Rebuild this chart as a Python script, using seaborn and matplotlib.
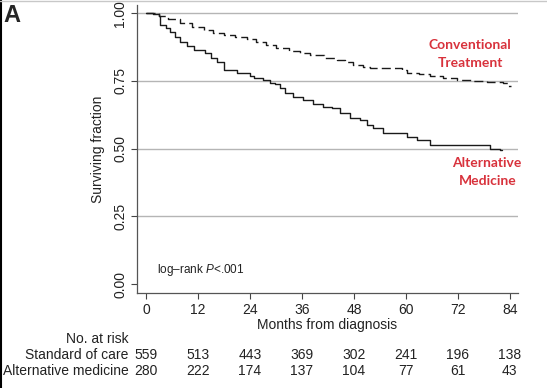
import seaborn as sns
import matplotlib.pyplot as plt
import pandas as pd
from matplotlib.lines import Line2D

# Kaplan-Meier step points
alt_months = [0, 1.5, 3, 3.3, 4.5, 5.5, 6.7, 7.9, 9.5, 11, 13.6, 15, 16.4, 18, 21, 24,
              25, 27, 28.6, 29.8, 30.9, 32.1, 34, 36.3, 38.6, 40.9, 43, 44.8, 47.1,
              49.4, 51, 52.4, 54.7, 60.2, 62.5, 65.6, 79.4, 81.8, 82.2]
alt_surv = [1.0, 0.996, 0.99, 0.955, 0.945, 0.93, 0.912, 0.893, 0.878, 0.863, 0.852, 0.836,
            0.819, 0.79, 0.779, 0.767, 0.762, 0.755, 0.741, 0.738, 0.722, 0.704, 0.691,
            0.679, 0.666, 0.654, 0.649, 0.631, 0.613, 0.605, 0.587, 0.576, 0.557, 0.543,
            0.531, 0.513, 0.50, 0.494, 0.494]

conv_months = [0, 3, 5, 7.9, 10.5, 13.4, 15.5, 18, 20.5, 23.3, 25.5, 27.7, 30, 33, 35.5,
               37.9, 41, 44, 46, 47.8, 50, 51.7, 59, 60.2, 63, 65.6, 68.5, 71.8, 75, 78.7,
               82.5, 83.6, 84.2]
conv_surv = [1.0, 0.99, 0.978, 0.963, 0.95, 0.937, 0.928, 0.919, 0.913, 0.906, 0.893, 0.882,
             0.872, 0.862, 0.853, 0.845, 0.836, 0.827, 0.818, 0.808, 0.802, 0.796, 0.79,
             0.78, 0.774, 0.768, 0.761, 0.753, 0.75, 0.747, 0.741, 0.731, 0.731]

risk_months = [0, 12, 24, 36, 48, 60, 72, 84]
risk_standard = [559, 513, 443, 369, 302, 241, 196, 138]
risk_alternative = [280, 222, 174, 137, 104, 77, 61, 43]

sns.set_style("white")
plt.rcParams['font.family'] = ['Liberation Sans', 'DejaVu Sans']
plt.rcParams['mathtext.fontset'] = 'custom'
plt.rcParams['mathtext.rm'] = 'Liberation Sans'
plt.rcParams['mathtext.it'] = 'Liberation Sans:italic'

fig = plt.figure(figsize=(5.47, 3.88), dpi=100)
ax = fig.add_axes([137 / 547, 1 - 293 / 388, (518 - 137) / 547, (293 - 5) / 388])

df_alt = pd.DataFrame({"Months": alt_months, "Surv": alt_surv})
df_conv = pd.DataFrame({"Months": conv_months, "Surv": conv_surv})

sns.lineplot(x="Months", y="Surv", data=df_alt, ax=ax, color="#1a1a1a",
             drawstyle="steps-post", estimator=None, linewidth=1.0)
sns.lineplot(x="Months", y="Surv", data=df_conv, ax=ax, color="#1a1a1a",
             drawstyle="steps-post", estimator=None, linewidth=1.0,
             linestyle=(0, (6.5, 3)))

ax.set_xlim(-2.1, 85.9)
ax.set_ylim(-0.033, 1.03)
ax.set_xticks(risk_months)
ax.set_yticks([0, 0.25, 0.5, 0.75, 1.0])
ax.set_yticklabels(["0.00", "0.25", "0.50", "0.75", "1.00"], rotation=90, va="center")
for yv in [0.25, 0.5, 0.75, 1.0]:
    ax.axhline(yv, color="#b5b5b5", linewidth=1.0, zorder=0)

ax.tick_params(axis="both", direction="out", length=4, width=0.8, color="#444444",
               labelsize=10, labelcolor="#222222", pad=3, left=True, bottom=True)
for s in ["top", "right"]:
    ax.spines[s].set_visible(False)
for s in ["left", "bottom"]:
    ax.spines[s].set_color("#555555")
    ax.spines[s].set_linewidth(0.9)

ax.set_xlabel("Months from diagnosis", fontsize=10, color="#222222", labelpad=1)
ax.set_ylabel("Surviving fraction", fontsize=10, color="#222222", labelpad=6)

ax.text(2.5, 0.04, "log\u2013rank $P$<.001", fontsize=8.5, color="#222222")

red = "#d8323c"
ax.text(74.8, 0.849, "Conventional\nTreatment", fontsize=10, color=red, ha="center",
        va="center", fontweight="bold", family=["Lato", "DejaVu Sans"], linespacing=1.6)
ax.text(78.8, 0.413, "Alternative\nMedicine", fontsize=10, color=red, ha="center",
        va="center", fontweight="bold", family=["Lato", "DejaVu Sans"], linespacing=1.6)

# numbers at risk
trans = ax.get_xaxis_transform()
row_y = [(293 - 339) / 288, (293 - 355) / 288, (293 - 371) / 288]
ax.text(-4.1, row_y[0], "No. at risk", transform=trans, ha="right", va="center",
        fontsize=10, color="#222222", clip_on=False)
ax.text(-4.1, row_y[1], "Standard of care", transform=trans, ha="right", va="center",
        fontsize=10, color="#222222", clip_on=False)
ax.text(-4.1, row_y[2], "Alternative medicine", transform=trans, ha="right", va="center",
        fontsize=10, color="#222222", clip_on=False)
for m, a, b in zip(risk_months, risk_standard, risk_alternative):
    ax.text(m, row_y[1], str(a), transform=trans, ha="center", va="center",
            fontsize=10, color="#222222", clip_on=False)
    ax.text(m, row_y[2], str(b), transform=trans, ha="center", va="center",
            fontsize=10, color="#222222", clip_on=False)

fig.text(3 / 547, 1 - 16 / 388, "A", fontsize=17, fontweight="bold", va="center", ha="left")

# frame edges of the original image
fig.add_artist(Line2D([1 / 547, 1 / 547], [0, 1], transform=fig.transFigure,
                      color="black", linewidth=1.5))
fig.add_artist(Line2D([0, 1], [1 - 0.5 / 388, 1 - 0.5 / 388], transform=fig.transFigure,
                      color="#c8c8c8", linewidth=1.0))

plt.savefig("out.png", dpi=100)
